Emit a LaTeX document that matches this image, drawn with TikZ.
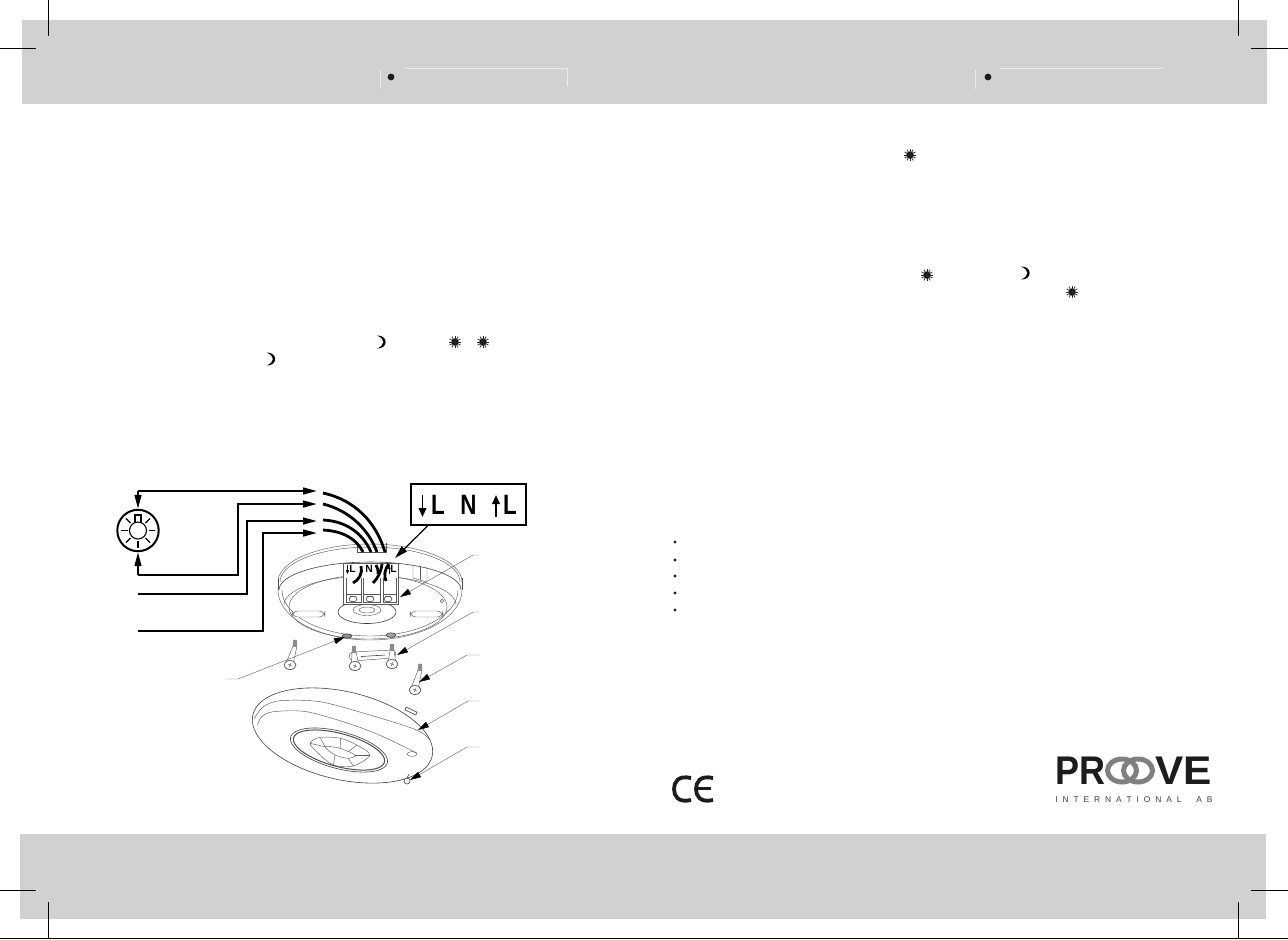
\documentclass[tikz,border=0pt]{standalone}
\usepackage{fontspec}
\setmainfont{Liberation Sans}
\usetikzlibrary{arrows.meta,calc}
\definecolor{band}{gray}{0.82}
\definecolor{ringg}{gray}{0.5}
\definecolor{dk}{gray}{0.11}
\definecolor{hdrline}{gray}{0.92}
\tikzset{
  wire/.style={line width=1pt,black},
  wirea/.style={wire,-{Triangle[length=7pt,width=3.4pt]}},
  fatwire/.style={line width=1.4pt,black},
  part/.style={line width=0.22pt,black!65},
  partk/.style={line width=0.3pt,black!75},
  leader/.style={line width=0.22pt,black!60,-{Triangle[length=5.5pt,width=3pt,black]}},
  crop/.style={line width=0.5pt,black},
  hdr/.style={line width=0.4pt,hdrline},
  lampline/.style={line width=0.55pt,black},
  biglabel/.style={font=\fontsize{14}{14}\selectfont\bfseries,inner sep=0pt},
  smalllabel/.style={font=\fontsize{5.2}{5.2}\selectfont\bfseries,inner sep=0pt},
  logoletter/.style={font=\fontsize{20}{20}\selectfont\bfseries,inner sep=0pt,text=dk},
  bigarrow/.style={line width=0.9pt,-{Triangle[length=4.5pt,width=3.8pt]}},
  smallarrow/.style={line width=0.3pt,-{Triangle[length=2pt,width=1.6pt]}},
}
\newcommand{\sunmark}[2]{%
  \fill (#1,#2) circle[radius=3.6];
  \foreach \a in {0,30,...,330}{\draw[line width=0.38pt,black!85] (#1,#2) -- ++(\a:6.2);}
}
\newcommand{\moonmark}[2]{%
  \fill (#1-4.5,#2-6.5) .. controls (#1+7,#2-7) and (#1+7,#2+7) .. (#1-4.5,#2+6.5) .. controls (#1+4,#2+3) and (#1+4,#2-3) .. (#1-4.5,#2-6.5) -- cycle;
}
\newcommand{\bulletmark}[2]{\fill[dk] (#1,#2) circle[radius=1.7];}
\newcommand{\tiltell}[8][part]{%
  \draw[#1] plot[domain=#7:#8,samples=70,smooth,variable=\u]
   ({#2+#4*cos(\u)*cos(#6)-#5*sin(\u)*sin(#6)},{#3+#4*cos(\u)*sin(#6)+#5*sin(\u)*cos(#6)});
}
\newcommand{\screwpart}[4]{% head x,y  tip x,y
  \draw[part,fill=white] ($(#1,#2)+(-3.5,-3)$) -- (#3-2,#4+6) -- (#3-1.5,#4) -- (#3+1.5,#4) -- (#3+2,#4+6) -- ($(#1,#2)+(3.5,-3)$) -- cycle;
  \fill[black!45] (#3-1.6,#4) rectangle (#3+1.6,#4+7);
  \draw[partk,fill=white] (#1,#2) ellipse[x radius=6,y radius=4.5];
  \draw[part] (#1-2,#2-1) -- (#1+2,#2+1);
  \draw[part] (#1+1,#2-2) -- (#1-1,#2+2);
}
\begin{document}
\begin{tikzpicture}[x=0.5pt,y=-0.5pt]
\useasboundingbox (0,0) rectangle (1288,939);
% bands
\fill[band] (22,20) rectangle (1267,104);
\fill[band] (20,834) rectangle (1266,919);
% crop marks
\draw[crop] (48,0) -- (48,36);
\draw[crop] (0,48) -- (36,48);
\draw[crop] (1238,0) -- (1238,36);
\draw[crop] (1288,48) -- (1251,48);
\draw[crop] (0,890) -- (36,890);
\draw[crop] (48,902) -- (48,938);
\draw[crop] (1288,890) -- (1251,890);
\draw[crop] (1238,902) -- (1238,938);
\draw[crop] (0,938) -- (1288,938);
% header tabs
\fill[dk] (391,77) circle[radius=3.4];
\draw[hdr] (380,70) -- (380,89);
\draw[hdr] (405,68) -- (567,68) -- (567,86);
\fill[dk] (988,77) circle[radius=3.4];
\draw[hdr] (975,70) -- (975,89);
\draw[hdr] (1000,68) -- (1163,68);
% text symbols
\moonmark{381.5}{342}
\sunmark{455}{342}
\sunmark{483}{342}
\moonmark{271}{359}
\sunmark{910}{155}
\sunmark{927}{275}
\moonmark{1025.5}{273}
\sunmark{1072}{292}
% bullets
\foreach \yy in {542,560,576,593,610}{\bulletmark{675}{\yy}}

% base plate
\tiltell{370}{582}{92}{38}{0}{180}{360}
\tiltell{370}{582}{90}{35}{0}{180}{360}
\draw[part] (278,578) -- (278,590);
\draw[part] (462,578) -- (462,590);
\tiltell[partk]{370}{590}{91}{28}{0}{180}{360}
\tiltell{370}{590}{92}{50}{0}{0}{180}
\tiltell{370}{590}{88}{46}{0}{0}{180}
\tiltell{370}{605}{86}{29}{0}{180}{360}
\tiltell{368}{607}{79}{32}{0}{0}{360}
% notch, hole
\draw[part] (413,565) -- (413,578) -- (427,582) -- (427,567);
\draw[part] (420,566) -- (420,580);
\draw[part] (442,601) circle[radius=1.8];
% slots
\draw[part,fill=white,rounded corners=3pt] (292,611) rectangle (325,617);
\draw[part,fill=white,rounded corners=3pt] (410,611) rectangle (443,617);
% centre disc
\draw[partk,fill=white] (367,612) ellipse[x radius=29,y radius=11.5];
\draw[part] (367,610) ellipse[x radius=14,y radius=5.5];
\draw[part] (367,610) ellipse[x radius=8,y radius=3];
% terminal block
\draw[part,fill=white] (343,563) rectangle (398,604);
\foreach \xa/\xb in {346/361,363/380,383/396}{
  \draw[part] (\xa,578) -- (\xa,594) -- (\xb,594) -- (\xb,578);
  \draw[part] (\xa,594) -- (\xa,602) -- (\xb,602) -- (\xb,594);
}
\foreach \xx in {353,370,388}{
  \draw[partk] (\xx,599) ellipse[x radius=4,y radius=2.8];
  \draw[part] (\xx-3,596) -- (\xx+3,596);
}
\coordinate (ta1) at (347.5,565);
\coordinate (ta2) at (347.5,574);
\coordinate (ta3) at (389,574);
\coordinate (ta4) at (389,565);
\draw[smallarrow] (ta1) -- (ta2);
\draw[smallarrow] (ta3) -- (ta4);
\node[smalllabel] (tl1) at (352.5,569) {L};
\node[smalllabel] (tn) at (369,569) {N};
\node[smalllabel] (tl2) at (393.5,569) {L};
\draw[fatwire] (361,566) .. controls (363,573) and (359,580) .. (353,583);
\draw[fatwire] (382,564) .. controls (381,572) and (378,578) .. (373,583);
\draw[fatwire] (376,565) .. controls (378,568) and (378,570) .. (378,574);
\draw[fatwire] (389,564) .. controls (384,570) and (384,576) .. (386,581);
% mounting holes
\draw[partk,fill=black!45] (347,636) ellipse[x radius=5,y radius=2.2];
\draw[partk,fill=black!35] (391,635) ellipse[x radius=5,y radius=2.2];
% bracket
\draw[part,fill=white] (353,652) .. controls (348,652) and (348,660) .. (353,661) -- (392,658) .. controls (397,657) and (397,650) .. (392,650) -- cycle;
\draw[partk] (361,656.5) -- (385,655);
\screwpart{355}{666}{354}{646}
\screwpart{392}{664}{392}{644}
% screws
\screwpart{290}{665}{295}{640}
\screwpart{415}{690}{420}{664}
% wire stub
\draw[part] (357,543) -- (357,552) -- (386,552) -- (386,543);
% lamp
\node[circle,draw,line width=1pt,minimum size=20.7pt,inner sep=0pt] (lamp) at (138,530.5) {};
\draw[lampline] (138,530.5) circle[radius=8.5];
\draw[lampline] (135,522) -- (135,515) -- (141,515) -- (141,522);
\foreach \a in {0,45,90,135,180,225,315}{\draw[lampline] (138,530.5)+(\a:10.5) -- +(\a:17);}
% wires
\coordinate (w1) at (317,491);
\coordinate (w2) at (317,504);
\coordinate (w3) at (317,521);
\coordinate (w4) at (317,533);
\coordinate (c1) at (138,491);
\coordinate (c2) at (138,575);
\coordinate (c3) at (138,594);
\coordinate (c4) at (138,631);
\draw[wirea] (c1) -- (w1);
\draw[wirea] (c1) -- (lamp.north);
\draw[wirea] (c2) -- (lamp.south);
\draw[wirea] (c2) -- (238,575) -- (238,504) -- (w2);
\draw[wirea] (c3) -- (247,594) -- (247,521) -- (w3);
\draw[wirea] (c4) -- (263,631) -- (263,533) -- (w4);
\coordinate (e1) at (385,552);
\coordinate (e2) at (377,552);
\coordinate (e3) at (371,552);
\coordinate (e4) at (363,552);
\coordinate (s1) at (323,493);
\coordinate (s2) at (323,504);
\coordinate (s3) at (323,520);
\coordinate (s4) at (323,530);
\draw[fatwire] (s1) .. controls (355,500) and (376,522) .. (e1);
\draw[fatwire] (s2) .. controls (348,510) and (368,528) .. (e2);
\draw[fatwire] (s3) .. controls (345,521) and (362,532) .. (e3);
\draw[fatwire] (s4) .. controls (342,531) and (356,538) .. (e4);
% label box
\node[draw,line width=1pt,fill=white,minimum width=57.5pt,minimum height=20.5pt,inner sep=0pt] (box) at (468,504.5) {};
\node[biglabel] (bl1) at (438,505) {\scalebox{0.8}[1]{L}};
\node[biglabel] (bn) at (468.5,505) {\scalebox{0.8}[1]{N}};
\node[biglabel] (bl2) at (510,505) {\scalebox{0.8}[1]{L}};
\coordinate (ba1) at (422.5,495);
\coordinate (ba2) at (422.5,517);
\coordinate (ba3) at (496,517);
\coordinate (ba4) at (496,495);
\draw[bigarrow] (ba1) -- (ba2);
\draw[bigarrow] (ba3) -- (ba4);
\coordinate (boxtip) at (395,558);
\draw[line width=0.6pt,-{Triangle[length=6.5pt,width=3.6pt]}] ($(box.south west)+(18,0)$) -- (boxtip);
% cover
\tiltell[partk,fill=white]{342.5}{735.5}{92}{44}{13}{0}{360}
\draw[part] plot[smooth] coordinates {(254.3,718.3) (263.3,706.7) (280,700.7) (320,701.7) (370,715) (416.7,730) (430,740)};
\draw[part] plot[smooth] coordinates {(257.3,725) (261.7,716.7) (273.3,711.7) (306.7,711.7) (353.3,725) (386.7,738.3) (416.7,753)};
\draw[partk,fill=white,rotate around={-25:(411,711)}] (405,709.5) rectangle (417,712.5);
\tiltell[partk]{339}{750}{50}{18.5}{15}{0}{360}
\tiltell[line width=0.5pt,black!70]{339}{750}{47}{16.5}{15}{0}{360}
% lens dome
\draw[part] plot[smooth cycle] coordinates {(310,743.3) (320,737.3) (340.7,738.3) (356.7,745) (370,755) (353.3,766) (333.3,765) (318.3,753.3)};
\draw[part] plot[smooth cycle] coordinates {(325,746.7) (340,748.3) (355,755) (348.3,758.3) (335,755)};
\draw[part] (320,737.3) -- (325,746.7);
\draw[part] (340.7,738.3) -- (340,748.3);
\draw[part] (356.7,745) -- (348.3,751.7);
\draw[part] (370,755) -- (355,755);
\draw[part] (353.3,766) -- (348.3,758.3);
\draw[part] (333.3,765) -- (335,755);
\draw[part] (310,743.3) -- (325,746.7);
\draw[part] (412,754) ellipse[x radius=5,y radius=2.4];
% bottom screw
\draw[partk,fill=white] (407,781) ellipse[x radius=3,y radius=3];
\draw[partk] (407,778) -- (409,774);
% leaders
\coordinate (l1a) at (479,555);\coordinate (l1b) at (473,555);\coordinate (l1t) at (400,597);
\coordinate (l2a) at (479,612);\coordinate (l2b) at (473,612);\coordinate (l2t) at (397,655);
\coordinate (l3a) at (225,679);\coordinate (l3b) at (238,679);\coordinate (l3t) at (345,637);
\coordinate (l4a) at (479,655);\coordinate (l4b) at (467,655);\coordinate (l4t) at (419,682);
\coordinate (l5a) at (479,701);\coordinate (l5b) at (468,701);\coordinate (l5t) at (418,730);
\coordinate (l6a) at (479,747);\coordinate (l6b) at (467,747);\coordinate (l6t) at (410,780);
\foreach \k in {1,...,6}{\draw[leader] (l\k a) -- (l\k b) -- (l\k t);}
% CE
\draw[line width=1.9pt,dk] (691,778) .. controls (678,775) and (674,782) .. (674,789) .. controls (674,796) and (678,803) .. (691,800);
\draw[line width=1.9pt,dk] (713,778) .. controls (700,775) and (696,782) .. (696,789) .. controls (696,796) and (700,803) .. (713,800);
\draw[line width=1.7pt,dk] (697,788.5) -- (711,788.5);
% logo
\node[logoletter,anchor=west] (lp) at (1055,770.5) {\scalebox{0.9}[1]{PR}};
\node[logoletter,anchor=east] (lv) at (1212,770.5) {\scalebox{1.06}[1]{VE}};
\draw[ringg,line width=2.5pt] (1122,770.5) ellipse[x radius=14.5,y radius=11.5];
\draw[ringg,line width=2.5pt] (1138,770.5) ellipse[x radius=14.5,y radius=11.5];
\node[anchor=west,inner sep=0pt,font=\fontsize{4.2}{4.2}\selectfont,text=black!75] (li) at (1055,800)
  {\makebox[78.5pt][s]{I\hfill N\hfill T\hfill E\hfill R\hfill N\hfill A\hfill T\hfill I\hfill O\hfill N\hfill A\hfill L\hfill\hfill\hfill A\hfill B}};
\end{tikzpicture}
\end{document}
